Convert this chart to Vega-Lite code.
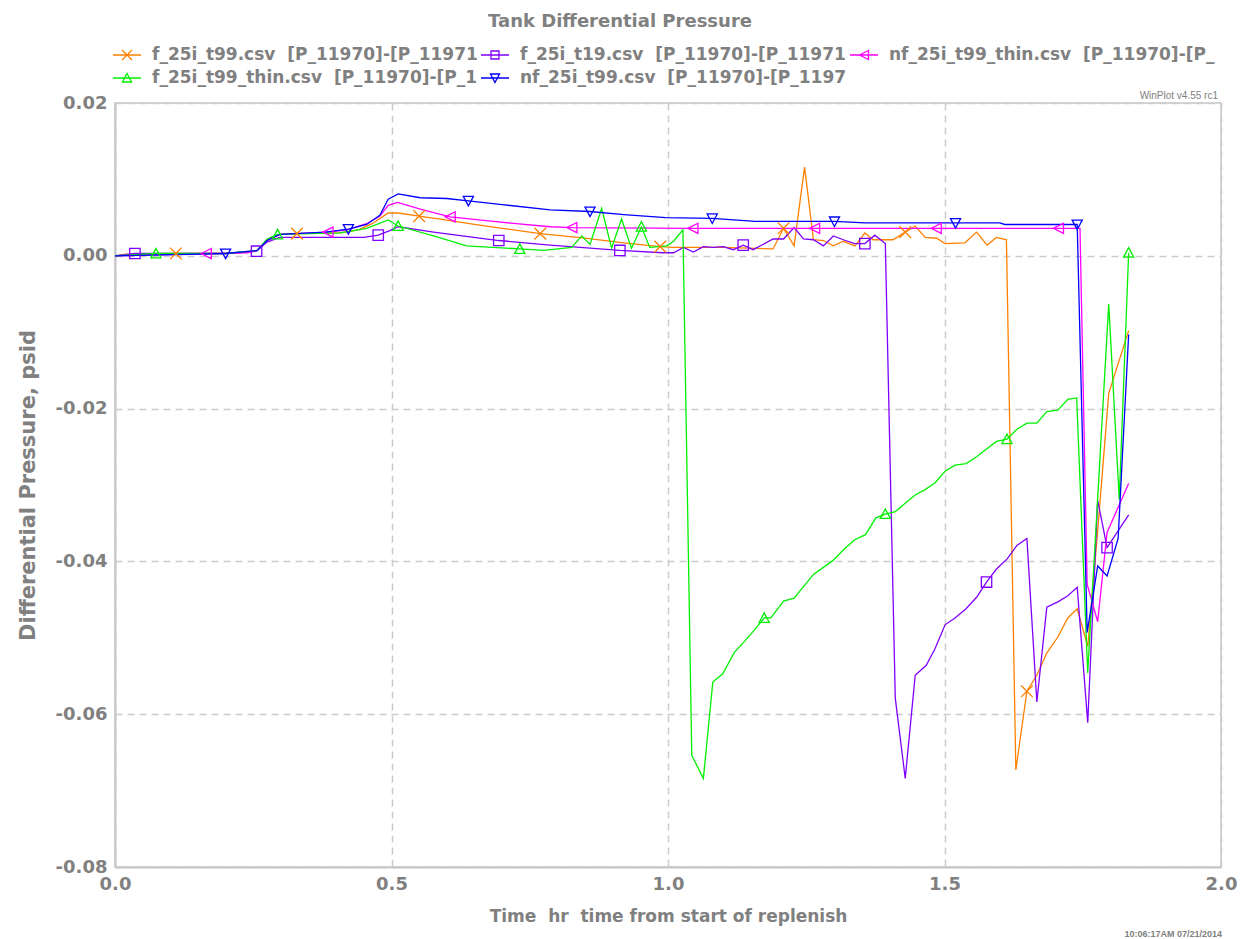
{
  "$schema": "https://vega.github.io/schema/vega-lite/v6.json",
  "width": 1106,
  "height": 764,
  "autosize": {"type": "none"},
  "padding": {"left": 115, "top": 103, "right": 19, "bottom": 72},
  "background": "white",
  "config": {
    "font": "DejaVu Sans",
    "view": {"stroke": "#d4d4d4", "strokeWidth": 2},
    "axis": {
      "domainColor": "#c8c8c8", "domainWidth": 2, "ticks": false,
      "gridColor": "#cccccc", "gridDash": [7, 5], "gridWidth": 1.5,
      "labelColor": "#808080", "labelFont": "DejaVu Sans", "labelFontWeight": "bold", "labelFontSize": 18,
      "titleColor": "#808080", "titleFont": "DejaVu Sans", "titleFontWeight": "bold"
    },
    "point": {"filled": false, "strokeWidth": 1.3, "size": 169, "opacity": 1}
  },
  "title": {
    "text": "Tank Differential Pressure",
    "fontSize": 18, "fontWeight": "bold", "color": "#808080", "font": "DejaVu Sans",
    "anchor": "middle", "dx": -48, "offset": 13
  },
  "datasets": {
    "series": [
      {"file": "f_25i_t99.csv", "time": 0, "dp": 0.0},
      {"file": "f_25i_t99.csv", "time": 0.02, "dp": 0.0002},
      {"file": "f_25i_t99.csv", "time": 0.11, "dp": 0.0003},
      {"file": "f_25i_t99.csv", "time": 0.2, "dp": 0.0003},
      {"file": "f_25i_t99.csv", "time": 0.24, "dp": 0.0005},
      {"file": "f_25i_t99.csv", "time": 0.257, "dp": 0.0007},
      {"file": "f_25i_t99.csv", "time": 0.275, "dp": 0.002},
      {"file": "f_25i_t99.csv", "time": 0.298, "dp": 0.0028},
      {"file": "f_25i_t99.csv", "time": 0.329, "dp": 0.0029},
      {"file": "f_25i_t99.csv", "time": 0.407, "dp": 0.003},
      {"file": "f_25i_t99.csv", "time": 0.44, "dp": 0.0034},
      {"file": "f_25i_t99.csv", "time": 0.465, "dp": 0.0042},
      {"file": "f_25i_t99.csv", "time": 0.494, "dp": 0.0056},
      {"file": "f_25i_t99.csv", "time": 0.512, "dp": 0.0056},
      {"file": "f_25i_t99.csv", "time": 0.55, "dp": 0.0052},
      {"file": "f_25i_t99.csv", "time": 0.588, "dp": 0.0048},
      {"file": "f_25i_t99.csv", "time": 0.65, "dp": 0.0041},
      {"file": "f_25i_t99.csv", "time": 0.7, "dp": 0.0036},
      {"file": "f_25i_t99.csv", "time": 0.769, "dp": 0.0029},
      {"file": "f_25i_t99.csv", "time": 0.85, "dp": 0.0023},
      {"file": "f_25i_t99.csv", "time": 0.92, "dp": 0.0017},
      {"file": "f_25i_t99.csv", "time": 0.986, "dp": 0.0012},
      {"file": "f_25i_t99.csv", "time": 1.01, "dp": 0.0011},
      {"file": "f_25i_t99.csv", "time": 1.1, "dp": 0.0011},
      {"file": "f_25i_t99.csv", "time": 1.19, "dp": 0.0009},
      {"file": "f_25i_t99.csv", "time": 1.209, "dp": 0.0036},
      {"file": "f_25i_t99.csv", "time": 1.228, "dp": 0.0013},
      {"file": "f_25i_t99.csv", "time": 1.247, "dp": 0.0116},
      {"file": "f_25i_t99.csv", "time": 1.263, "dp": 0.0021},
      {"file": "f_25i_t99.csv", "time": 1.281, "dp": 0.002},
      {"file": "f_25i_t99.csv", "time": 1.299, "dp": 0.0013},
      {"file": "f_25i_t99.csv", "time": 1.317, "dp": 0.0019},
      {"file": "f_25i_t99.csv", "time": 1.338, "dp": 0.0013},
      {"file": "f_25i_t99.csv", "time": 1.356, "dp": 0.003},
      {"file": "f_25i_t99.csv", "time": 1.371, "dp": 0.0021},
      {"file": "f_25i_t99.csv", "time": 1.407, "dp": 0.0021},
      {"file": "f_25i_t99.csv", "time": 1.429, "dp": 0.0031},
      {"file": "f_25i_t99.csv", "time": 1.447, "dp": 0.0039},
      {"file": "f_25i_t99.csv", "time": 1.465, "dp": 0.0024},
      {"file": "f_25i_t99.csv", "time": 1.486, "dp": 0.0023},
      {"file": "f_25i_t99.csv", "time": 1.501, "dp": 0.0016},
      {"file": "f_25i_t99.csv", "time": 1.537, "dp": 0.0017},
      {"file": "f_25i_t99.csv", "time": 1.558, "dp": 0.0031},
      {"file": "f_25i_t99.csv", "time": 1.577, "dp": 0.0014},
      {"file": "f_25i_t99.csv", "time": 1.594, "dp": 0.0024},
      {"file": "f_25i_t99.csv", "time": 1.612, "dp": 0.0021},
      {"file": "f_25i_t99.csv", "time": 1.629, "dp": -0.0673},
      {"file": "f_25i_t99.csv", "time": 1.649, "dp": -0.057},
      {"file": "f_25i_t99.csv", "time": 1.667, "dp": -0.0549},
      {"file": "f_25i_t99.csv", "time": 1.685, "dp": -0.052},
      {"file": "f_25i_t99.csv", "time": 1.705, "dp": -0.0499},
      {"file": "f_25i_t99.csv", "time": 1.723, "dp": -0.0474},
      {"file": "f_25i_t99.csv", "time": 1.74, "dp": -0.0462},
      {"file": "f_25i_t99.csv", "time": 1.759, "dp": -0.0511},
      {"file": "f_25i_t99.csv", "time": 1.777, "dp": -0.036},
      {"file": "f_25i_t99.csv", "time": 1.797, "dp": -0.018},
      {"file": "f_25i_t99.csv", "time": 1.833, "dp": -0.0098},

      {"file": "f_25i_t19.csv", "time": 0, "dp": 0.0},
      {"file": "f_25i_t19.csv", "time": 0.036, "dp": 0.0003},
      {"file": "f_25i_t19.csv", "time": 0.2, "dp": 0.0003},
      {"file": "f_25i_t19.csv", "time": 0.256, "dp": 0.0006},
      {"file": "f_25i_t19.csv", "time": 0.275, "dp": 0.0018},
      {"file": "f_25i_t19.csv", "time": 0.298, "dp": 0.0024},
      {"file": "f_25i_t19.csv", "time": 0.407, "dp": 0.0024},
      {"file": "f_25i_t19.csv", "time": 0.45, "dp": 0.0024},
      {"file": "f_25i_t19.csv", "time": 0.476, "dp": 0.0027},
      {"file": "f_25i_t19.csv", "time": 0.497, "dp": 0.0033},
      {"file": "f_25i_t19.csv", "time": 0.512, "dp": 0.0038},
      {"file": "f_25i_t19.csv", "time": 0.576, "dp": 0.0031},
      {"file": "f_25i_t19.csv", "time": 0.694, "dp": 0.002},
      {"file": "f_25i_t19.csv", "time": 0.787, "dp": 0.0014},
      {"file": "f_25i_t19.csv", "time": 0.913, "dp": 0.0007},
      {"file": "f_25i_t19.csv", "time": 0.99, "dp": 0.0004},
      {"file": "f_25i_t19.csv", "time": 1.01, "dp": 0.0004},
      {"file": "f_25i_t19.csv", "time": 1.028, "dp": 0.0011},
      {"file": "f_25i_t19.csv", "time": 1.046, "dp": 0.0005},
      {"file": "f_25i_t19.csv", "time": 1.064, "dp": 0.0012},
      {"file": "f_25i_t19.csv", "time": 1.082, "dp": 0.0011},
      {"file": "f_25i_t19.csv", "time": 1.1, "dp": 0.0012},
      {"file": "f_25i_t19.csv", "time": 1.118, "dp": 0.0008},
      {"file": "f_25i_t19.csv", "time": 1.136, "dp": 0.0014},
      {"file": "f_25i_t19.csv", "time": 1.154, "dp": 0.0008},
      {"file": "f_25i_t19.csv", "time": 1.19, "dp": 0.0022},
      {"file": "f_25i_t19.csv", "time": 1.209, "dp": 0.0022},
      {"file": "f_25i_t19.csv", "time": 1.228, "dp": 0.0037},
      {"file": "f_25i_t19.csv", "time": 1.245, "dp": 0.0022},
      {"file": "f_25i_t19.csv", "time": 1.263, "dp": 0.0021},
      {"file": "f_25i_t19.csv", "time": 1.281, "dp": 0.0013},
      {"file": "f_25i_t19.csv", "time": 1.299, "dp": 0.0026},
      {"file": "f_25i_t19.csv", "time": 1.317, "dp": 0.0021},
      {"file": "f_25i_t19.csv", "time": 1.338, "dp": 0.0016},
      {"file": "f_25i_t19.csv", "time": 1.356, "dp": 0.0016},
      {"file": "f_25i_t19.csv", "time": 1.374, "dp": 0.0027},
      {"file": "f_25i_t19.csv", "time": 1.393, "dp": 0.0016},
      {"file": "f_25i_t19.csv", "time": 1.411, "dp": -0.0579},
      {"file": "f_25i_t19.csv", "time": 1.429, "dp": -0.0684},
      {"file": "f_25i_t19.csv", "time": 1.447, "dp": -0.0549},
      {"file": "f_25i_t19.csv", "time": 1.467, "dp": -0.0536},
      {"file": "f_25i_t19.csv", "time": 1.483, "dp": -0.0514},
      {"file": "f_25i_t19.csv", "time": 1.501, "dp": -0.0483},
      {"file": "f_25i_t19.csv", "time": 1.519, "dp": -0.0474},
      {"file": "f_25i_t19.csv", "time": 1.539, "dp": -0.0462},
      {"file": "f_25i_t19.csv", "time": 1.558, "dp": -0.0447},
      {"file": "f_25i_t19.csv", "time": 1.576, "dp": -0.0427},
      {"file": "f_25i_t19.csv", "time": 1.594, "dp": -0.041},
      {"file": "f_25i_t19.csv", "time": 1.613, "dp": -0.0397},
      {"file": "f_25i_t19.csv", "time": 1.631, "dp": -0.0379},
      {"file": "f_25i_t19.csv", "time": 1.649, "dp": -0.037},
      {"file": "f_25i_t19.csv", "time": 1.667, "dp": -0.0584},
      {"file": "f_25i_t19.csv", "time": 1.685, "dp": -0.046},
      {"file": "f_25i_t19.csv", "time": 1.705, "dp": -0.0453},
      {"file": "f_25i_t19.csv", "time": 1.723, "dp": -0.0445},
      {"file": "f_25i_t19.csv", "time": 1.74, "dp": -0.0434},
      {"file": "f_25i_t19.csv", "time": 1.759, "dp": -0.0611},
      {"file": "f_25i_t19.csv", "time": 1.777, "dp": -0.032},
      {"file": "f_25i_t19.csv", "time": 1.794, "dp": -0.0382},
      {"file": "f_25i_t19.csv", "time": 1.833, "dp": -0.0339},

      {"file": "nf_25i_t99_thin.csv", "time": 0, "dp": 0.0},
      {"file": "nf_25i_t99_thin.csv", "time": 0.165, "dp": 0.0003},
      {"file": "nf_25i_t99_thin.csv", "time": 0.24, "dp": 0.0004},
      {"file": "nf_25i_t99_thin.csv", "time": 0.257, "dp": 0.0007},
      {"file": "nf_25i_t99_thin.csv", "time": 0.275, "dp": 0.002},
      {"file": "nf_25i_t99_thin.csv", "time": 0.298, "dp": 0.0028},
      {"file": "nf_25i_t99_thin.csv", "time": 0.385, "dp": 0.0031},
      {"file": "nf_25i_t99_thin.csv", "time": 0.42, "dp": 0.0034},
      {"file": "nf_25i_t99_thin.csv", "time": 0.455, "dp": 0.0042},
      {"file": "nf_25i_t99_thin.csv", "time": 0.479, "dp": 0.0052},
      {"file": "nf_25i_t99_thin.csv", "time": 0.494, "dp": 0.0066},
      {"file": "nf_25i_t99_thin.csv", "time": 0.511, "dp": 0.007},
      {"file": "nf_25i_t99_thin.csv", "time": 0.552, "dp": 0.0061},
      {"file": "nf_25i_t99_thin.csv", "time": 0.606, "dp": 0.0051},
      {"file": "nf_25i_t99_thin.csv", "time": 0.684, "dp": 0.0045},
      {"file": "nf_25i_t99_thin.csv", "time": 0.787, "dp": 0.0038},
      {"file": "nf_25i_t99_thin.csv", "time": 0.826, "dp": 0.0037},
      {"file": "nf_25i_t99_thin.csv", "time": 1.045, "dp": 0.0036},
      {"file": "nf_25i_t99_thin.csv", "time": 1.265, "dp": 0.0036},
      {"file": "nf_25i_t99_thin.csv", "time": 1.485, "dp": 0.0036},
      {"file": "nf_25i_t99_thin.csv", "time": 1.706, "dp": 0.0036},
      {"file": "nf_25i_t99_thin.csv", "time": 1.745, "dp": 0.0036},
      {"file": "nf_25i_t99_thin.csv", "time": 1.758, "dp": -0.043},
      {"file": "nf_25i_t99_thin.csv", "time": 1.777, "dp": -0.0479},
      {"file": "nf_25i_t99_thin.csv", "time": 1.794, "dp": -0.0362},
      {"file": "nf_25i_t99_thin.csv", "time": 1.833, "dp": -0.0298},

      {"file": "f_25i_t99_thin.csv", "time": 0, "dp": 0.0},
      {"file": "f_25i_t99_thin.csv", "time": 0.074, "dp": 0.0003},
      {"file": "f_25i_t99_thin.csv", "time": 0.2, "dp": 0.0003},
      {"file": "f_25i_t99_thin.csv", "time": 0.257, "dp": 0.0007},
      {"file": "f_25i_t99_thin.csv", "time": 0.275, "dp": 0.0022},
      {"file": "f_25i_t99_thin.csv", "time": 0.294, "dp": 0.0028},
      {"file": "f_25i_t99_thin.csv", "time": 0.407, "dp": 0.003},
      {"file": "f_25i_t99_thin.csv", "time": 0.455, "dp": 0.0036},
      {"file": "f_25i_t99_thin.csv", "time": 0.494, "dp": 0.0047},
      {"file": "f_25i_t99_thin.csv", "time": 0.512, "dp": 0.0039},
      {"file": "f_25i_t99_thin.csv", "time": 0.576, "dp": 0.0026},
      {"file": "f_25i_t99_thin.csv", "time": 0.636, "dp": 0.0013},
      {"file": "f_25i_t99_thin.csv", "time": 0.732, "dp": 0.0009},
      {"file": "f_25i_t99_thin.csv", "time": 0.775, "dp": 0.0007},
      {"file": "f_25i_t99_thin.csv", "time": 0.826, "dp": 0.0011},
      {"file": "f_25i_t99_thin.csv", "time": 0.844, "dp": 0.0026},
      {"file": "f_25i_t99_thin.csv", "time": 0.859, "dp": 0.0015},
      {"file": "f_25i_t99_thin.csv", "time": 0.88, "dp": 0.0062},
      {"file": "f_25i_t99_thin.csv", "time": 0.898, "dp": 0.001},
      {"file": "f_25i_t99_thin.csv", "time": 0.916, "dp": 0.0048},
      {"file": "f_25i_t99_thin.csv", "time": 0.934, "dp": 0.001},
      {"file": "f_25i_t99_thin.csv", "time": 0.952, "dp": 0.0038},
      {"file": "f_25i_t99_thin.csv", "time": 0.967, "dp": 0.0011},
      {"file": "f_25i_t99_thin.csv", "time": 0.998, "dp": 0.0013},
      {"file": "f_25i_t99_thin.csv", "time": 1.01, "dp": 0.0019},
      {"file": "f_25i_t99_thin.csv", "time": 1.027, "dp": 0.0034},
      {"file": "f_25i_t99_thin.csv", "time": 1.043, "dp": -0.0654},
      {"file": "f_25i_t99_thin.csv", "time": 1.064, "dp": -0.0684},
      {"file": "f_25i_t99_thin.csv", "time": 1.081, "dp": -0.0558},
      {"file": "f_25i_t99_thin.csv", "time": 1.099, "dp": -0.0547},
      {"file": "f_25i_t99_thin.csv", "time": 1.12, "dp": -0.0519},
      {"file": "f_25i_t99_thin.csv", "time": 1.138, "dp": -0.0505},
      {"file": "f_25i_t99_thin.csv", "time": 1.156, "dp": -0.049},
      {"file": "f_25i_t99_thin.csv", "time": 1.174, "dp": -0.0474},
      {"file": "f_25i_t99_thin.csv", "time": 1.186, "dp": -0.0474},
      {"file": "f_25i_t99_thin.csv", "time": 1.209, "dp": -0.0452},
      {"file": "f_25i_t99_thin.csv", "time": 1.228, "dp": -0.0448},
      {"file": "f_25i_t99_thin.csv", "time": 1.263, "dp": -0.0417},
      {"file": "f_25i_t99_thin.csv", "time": 1.298, "dp": -0.0399},
      {"file": "f_25i_t99_thin.csv", "time": 1.317, "dp": -0.0385},
      {"file": "f_25i_t99_thin.csv", "time": 1.337, "dp": -0.0372},
      {"file": "f_25i_t99_thin.csv", "time": 1.357, "dp": -0.0365},
      {"file": "f_25i_t99_thin.csv", "time": 1.376, "dp": -0.0343},
      {"file": "f_25i_t99_thin.csv", "time": 1.393, "dp": -0.0338},
      {"file": "f_25i_t99_thin.csv", "time": 1.411, "dp": -0.0335},
      {"file": "f_25i_t99_thin.csv", "time": 1.432, "dp": -0.0322},
      {"file": "f_25i_t99_thin.csv", "time": 1.447, "dp": -0.0313},
      {"file": "f_25i_t99_thin.csv", "time": 1.465, "dp": -0.0306},
      {"file": "f_25i_t99_thin.csv", "time": 1.483, "dp": -0.0297},
      {"file": "f_25i_t99_thin.csv", "time": 1.501, "dp": -0.0282},
      {"file": "f_25i_t99_thin.csv", "time": 1.519, "dp": -0.0274},
      {"file": "f_25i_t99_thin.csv", "time": 1.539, "dp": -0.0272},
      {"file": "f_25i_t99_thin.csv", "time": 1.558, "dp": -0.0263},
      {"file": "f_25i_t99_thin.csv", "time": 1.576, "dp": -0.0253},
      {"file": "f_25i_t99_thin.csv", "time": 1.594, "dp": -0.0243},
      {"file": "f_25i_t99_thin.csv", "time": 1.613, "dp": -0.024},
      {"file": "f_25i_t99_thin.csv", "time": 1.631, "dp": -0.0227},
      {"file": "f_25i_t99_thin.csv", "time": 1.649, "dp": -0.0219},
      {"file": "f_25i_t99_thin.csv", "time": 1.667, "dp": -0.0219},
      {"file": "f_25i_t99_thin.csv", "time": 1.685, "dp": -0.0204},
      {"file": "f_25i_t99_thin.csv", "time": 1.705, "dp": -0.0202},
      {"file": "f_25i_t99_thin.csv", "time": 1.723, "dp": -0.0188},
      {"file": "f_25i_t99_thin.csv", "time": 1.739, "dp": -0.0186},
      {"file": "f_25i_t99_thin.csv", "time": 1.759, "dp": -0.0546},
      {"file": "f_25i_t99_thin.csv", "time": 1.797, "dp": -0.0063},
      {"file": "f_25i_t99_thin.csv", "time": 1.816, "dp": -0.0319},
      {"file": "f_25i_t99_thin.csv", "time": 1.833, "dp": 0.0004},

      {"file": "nf_25i_t99.csv", "time": 0, "dp": 0.0},
      {"file": "nf_25i_t99.csv", "time": 0.2, "dp": 0.0003},
      {"file": "nf_25i_t99.csv", "time": 0.257, "dp": 0.0007},
      {"file": "nf_25i_t99.csv", "time": 0.275, "dp": 0.002},
      {"file": "nf_25i_t99.csv", "time": 0.298, "dp": 0.0028},
      {"file": "nf_25i_t99.csv", "time": 0.38, "dp": 0.0031},
      {"file": "nf_25i_t99.csv", "time": 0.422, "dp": 0.0035},
      {"file": "nf_25i_t99.csv", "time": 0.455, "dp": 0.0041},
      {"file": "nf_25i_t99.csv", "time": 0.479, "dp": 0.0053},
      {"file": "nf_25i_t99.csv", "time": 0.494, "dp": 0.0074},
      {"file": "nf_25i_t99.csv", "time": 0.512, "dp": 0.0081},
      {"file": "nf_25i_t99.csv", "time": 0.552, "dp": 0.0076},
      {"file": "nf_25i_t99.csv", "time": 0.6, "dp": 0.0075},
      {"file": "nf_25i_t99.csv", "time": 0.639, "dp": 0.0072},
      {"file": "nf_25i_t99.csv", "time": 0.7, "dp": 0.0067},
      {"file": "nf_25i_t99.csv", "time": 0.787, "dp": 0.006},
      {"file": "nf_25i_t99.csv", "time": 0.859, "dp": 0.0058},
      {"file": "nf_25i_t99.csv", "time": 0.92, "dp": 0.0054},
      {"file": "nf_25i_t99.csv", "time": 0.996, "dp": 0.005},
      {"file": "nf_25i_t99.csv", "time": 1.08, "dp": 0.0049},
      {"file": "nf_25i_t99.csv", "time": 1.158, "dp": 0.0045},
      {"file": "nf_25i_t99.csv", "time": 1.301, "dp": 0.0045},
      {"file": "nf_25i_t99.csv", "time": 1.356, "dp": 0.0043},
      {"file": "nf_25i_t99.csv", "time": 1.52, "dp": 0.0043},
      {"file": "nf_25i_t99.csv", "time": 1.6, "dp": 0.0043},
      {"file": "nf_25i_t99.csv", "time": 1.609, "dp": 0.0041},
      {"file": "nf_25i_t99.csv", "time": 1.74, "dp": 0.0041},
      {"file": "nf_25i_t99.csv", "time": 1.758, "dp": -0.0493},
      {"file": "nf_25i_t99.csv", "time": 1.777, "dp": -0.0406},
      {"file": "nf_25i_t99.csv", "time": 1.794, "dp": -0.0419},
      {"file": "nf_25i_t99.csv", "time": 1.814, "dp": -0.037},
      {"file": "nf_25i_t99.csv", "time": 1.833, "dp": -0.0103}
    ],
    "markers": [
      {"file": "f_25i_t99.csv", "time": 0.11, "dp": 0.0003},
      {"file": "f_25i_t99.csv", "time": 0.329, "dp": 0.0029},
      {"file": "f_25i_t99.csv", "time": 0.55, "dp": 0.0052},
      {"file": "f_25i_t99.csv", "time": 0.769, "dp": 0.0029},
      {"file": "f_25i_t99.csv", "time": 0.986, "dp": 0.0012},
      {"file": "f_25i_t99.csv", "time": 1.209, "dp": 0.0036},
      {"file": "f_25i_t99.csv", "time": 1.429, "dp": 0.0031},
      {"file": "f_25i_t99.csv", "time": 1.649, "dp": -0.057},
      {"file": "f_25i_t19.csv", "time": 0.036, "dp": 0.0003},
      {"file": "f_25i_t19.csv", "time": 0.256, "dp": 0.0006},
      {"file": "f_25i_t19.csv", "time": 0.476, "dp": 0.0027},
      {"file": "f_25i_t19.csv", "time": 0.694, "dp": 0.002},
      {"file": "f_25i_t19.csv", "time": 0.913, "dp": 0.0007},
      {"file": "f_25i_t19.csv", "time": 1.136, "dp": 0.0014},
      {"file": "f_25i_t19.csv", "time": 1.356, "dp": 0.0016},
      {"file": "f_25i_t19.csv", "time": 1.576, "dp": -0.0427},
      {"file": "f_25i_t19.csv", "time": 1.794, "dp": -0.0382},
      {"file": "nf_25i_t99_thin.csv", "time": 0.165, "dp": 0.0003},
      {"file": "nf_25i_t99_thin.csv", "time": 0.385, "dp": 0.0031},
      {"file": "nf_25i_t99_thin.csv", "time": 0.606, "dp": 0.0051},
      {"file": "nf_25i_t99_thin.csv", "time": 0.826, "dp": 0.0037},
      {"file": "nf_25i_t99_thin.csv", "time": 1.045, "dp": 0.0036},
      {"file": "nf_25i_t99_thin.csv", "time": 1.265, "dp": 0.0036},
      {"file": "nf_25i_t99_thin.csv", "time": 1.485, "dp": 0.0036},
      {"file": "nf_25i_t99_thin.csv", "time": 1.706, "dp": 0.0036},
      {"file": "f_25i_t99_thin.csv", "time": 0.074, "dp": 0.0003},
      {"file": "f_25i_t99_thin.csv", "time": 0.294, "dp": 0.0028},
      {"file": "f_25i_t99_thin.csv", "time": 0.512, "dp": 0.0039},
      {"file": "f_25i_t99_thin.csv", "time": 0.732, "dp": 0.0009},
      {"file": "f_25i_t99_thin.csv", "time": 0.952, "dp": 0.0038},
      {"file": "f_25i_t99_thin.csv", "time": 1.174, "dp": -0.0474},
      {"file": "f_25i_t99_thin.csv", "time": 1.393, "dp": -0.0338},
      {"file": "f_25i_t99_thin.csv", "time": 1.613, "dp": -0.024},
      {"file": "f_25i_t99_thin.csv", "time": 1.833, "dp": 0.0004},
      {"file": "nf_25i_t99.csv", "time": 0.2, "dp": 0.0003},
      {"file": "nf_25i_t99.csv", "time": 0.422, "dp": 0.0035},
      {"file": "nf_25i_t99.csv", "time": 0.639, "dp": 0.0072},
      {"file": "nf_25i_t99.csv", "time": 0.859, "dp": 0.0058},
      {"file": "nf_25i_t99.csv", "time": 1.08, "dp": 0.0049},
      {"file": "nf_25i_t99.csv", "time": 1.301, "dp": 0.0045},
      {"file": "nf_25i_t99.csv", "time": 1.52, "dp": 0.0043},
      {"file": "nf_25i_t99.csv", "time": 1.74, "dp": 0.0041}
    ]
  },
  "encoding": {
    "x": {
      "field": "time", "type": "quantitative",
      "scale": {"domain": [0, 2], "nice": false, "zero": false},
      "axis": {
        "title": "Time\u00a0 hr\u00a0 time from start of replenish", "titleFontSize": 17, "titlePadding": 15,
        "values": [0, 0.5, 1, 1.5, 2], "format": ".1f", "labelPadding": 8, "labelFlush": false
      }
    },
    "y": {
      "field": "dp", "type": "quantitative",
      "scale": {"domain": [-0.08, 0.02], "nice": false, "zero": false},
      "axis": {
        "title": "Differential Pressure, psid", "titleFontSize": 21, "titlePadding": 17,
        "values": [-0.08, -0.06, -0.04, -0.02, 0, 0.02],
        "labelExpr": "replace(format(datum.value, '.2f'), '\u2212', '-')",
        "labelPadding": 8, "labelFlush": false
      }
    },
    "color": {
      "field": "file", "type": "nominal",
      "scale": {
        "domain": ["f_25i_t99.csv", "f_25i_t19.csv", "nf_25i_t99_thin.csv", "f_25i_t99_thin.csv", "nf_25i_t99.csv"],
        "range": ["#ff8000", "#8000ff", "#ff00ff", "#00f000", "#0000ff"]
      },
      "legend": {
        "title": null, "orient": "none", "legendX": 1, "legendY": -59,
        "direction": "horizontal", "columns": 3, "columnPadding": 0, "rowPadding": 4,
        "padding": 0, "symbolSize": 400, "symbolStrokeWidth": 1.3,
        "labelOffset": 14, "labelLimit": 328, "labelFontSize": 17, "labelFontWeight": "bold",
        "labelColor": "#808080", "labelFont": "DejaVu Sans",
        "labelExpr": "datum.label + '\u00a0 [P_11970]-[P_11971]'",
        "encode": {
          "labels": {"update": {"ellipsis": {"value": "\u200b"}}},
          "symbols": {"update": {
            "fill": {"value": "transparent"},
            "shape": {"signal": "{'f_25i_t99.csv': 'M-1.4,0L1.4,0M-0.5,-0.5L0.5,0.5M-0.5,0.5L0.5,-0.5', 'f_25i_t19.csv': 'M-1.4,0L1.4,0M-0.4,-0.4L0.4,-0.4L0.4,0.4L-0.4,0.4Z', 'nf_25i_t99_thin.csv': 'M-1.4,0L1.4,0M-0.45,0L0.45,-0.45L0.45,0.45Z', 'f_25i_t99_thin.csv': 'M-1.4,0L1.4,0M0,-0.45L0.45,0.4L-0.45,0.4Z', 'nf_25i_t99.csv': 'M-1.4,0L1.4,0M0,0.45L0.45,-0.4L-0.45,-0.4Z'}[datum.value]"}
          }}
        }
      }
    }
  },
  "layer": [
    {
      "data": {"name": "series"},
      "mark": {"type": "line", "strokeWidth": 1.3, "clip": true}
    },
    {
      "data": {"name": "markers"},
      "transform": [{"filter": "datum.file === 'f_25i_t99.csv'"}],
      "mark": {"type": "point", "shape": "M-0.9,-0.9L0.9,0.9M-0.9,0.9L0.9,-0.9", "clip": true}
    },
    {
      "data": {"name": "markers"},
      "transform": [{"filter": "datum.file === 'f_25i_t19.csv'"}],
      "mark": {"type": "point", "shape": "M-0.8,-0.8L0.8,-0.8L0.8,0.8L-0.8,0.8Z", "clip": true}
    },
    {
      "data": {"name": "markers"},
      "transform": [{"filter": "datum.file === 'nf_25i_t99_thin.csv'"}],
      "mark": {"type": "point", "shape": "M-0.78,0L0.78,-0.78L0.78,0.78Z", "clip": true}
    },
    {
      "data": {"name": "markers"},
      "transform": [{"filter": "datum.file === 'f_25i_t99_thin.csv'"}],
      "mark": {"type": "point", "shape": "M0,-0.78L0.78,0.68L-0.78,0.68Z", "clip": true}
    },
    {
      "data": {"name": "markers"},
      "transform": [{"filter": "datum.file === 'nf_25i_t99.csv'"}],
      "mark": {"type": "point", "shape": "M0,0.78L0.78,-0.68L-0.78,-0.68Z", "clip": true}
    },
    {
      "data": {"values": [{"note": "WinPlot v4.55 rc1", "time": 2.0, "dp": 0.02}]},
      "mark": {"type": "text", "align": "right", "baseline": "alphabetic", "dx": -3, "dy": -4, "fontSize": 10, "color": "#808080", "font": "Liberation Sans"},
      "encoding": {
        "color": {"value": "#808080"},
        "text": {"field": "note"}
      }
    },
    {
      "data": {"values": [{"note": "10:06:17AM 07/21/2014", "time": 2.0, "dp": -0.08}]},
      "mark": {"type": "text", "align": "right", "baseline": "alphabetic", "dx": 1, "dy": 70, "fontSize": 9, "fontWeight": "bold", "color": "#808080", "font": "Liberation Sans"},
      "encoding": {
        "color": {"value": "#808080"},
        "text": {"field": "note"}
      }
    }
  ]
}
